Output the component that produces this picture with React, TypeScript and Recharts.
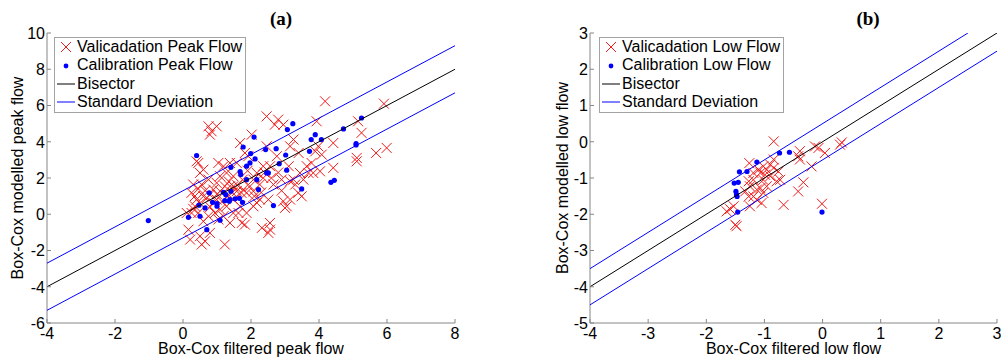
import React from "react";
import { ScatterChart, Scatter, XAxis, YAxis, Legend, Label } from "recharts";

// ---------- Panel (a) : peak flow ----------
const peakValX = [4.18,5.91,5.99,5.68,5.25,5.15,5.11,5.11,4.42,4.42,3.93,3.98,3.89,4.08,3.78,3.69,3.83,4.03,3.54,3.39,3.49,3.25,3.15,3.25,3.15,3.05,3.0,2.95,2.90,2.95,2.80,2.70,2.46,2.76,2.46,2.36,2.56,2.66,2.51,2.56,2.51,2.32,2.56,2.26,2.17,2.07,1.87,1.82,1.73,1.77,1.97,2.07,2.17,1.92,2.02,1.82,1.68,1.58,1.38,1.48,1.28,1.19,1.04,1.09,0.99,0.89,0.75,0.60,0.45,0.40,0.50,0.55,0.30,0.25,0.40,0.35,0.45,0.25,0.21,0.50,0.55,0.65,0.79,0.75,0.99,0.84,0.79,1.23,1.04,1.19,1.38,1.48,1.63,1.68,1.48,1.38,1.58,1.72,1.87,2.07,2.26,2.36,0.99,0.89,0.70,0.60,0.79,1.09,1.23,1.48,1.28,1.09,0.94,0.75,0.60,0.11,0.16,3.15,3.30,3.11,3.40,3.44,3.64,0.35,0.5,0.65,0.8,1.0,1.15,1.3,1.45,1.6,1.75,1.9,2.1,2.3,0.45,0.3,1.35,2.4,2.6,2.8,2.9];
const peakValY = [6.23,6.10,3.66,3.38,4.49,5.13,3.11,2.92,3.93,2.56,5.13,3.75,3.47,3.29,2.83,2.28,2.28,2.37,1.91,1.18,0.99,1.91,1.82,4.12,3.75,0.44,0.35,0.72,1.91,4.94,5.22,4.94,5.40,3.20,3.75,2.65,2.65,1.64,0.81,-0.85,-1.03,-0.75,-0.48,0.81,0.63,0.44,0.07,-0.57,-0.48,1.36,1.54,1.91,2.28,3.20,4.39,3.38,3.93,2.83,2.83,2.10,2.28,2.65,2.83,2.10,1.73,1.36,1.91,2.46,2.83,2.92,2.28,1.64,1.64,1.18,0.81,0.44,0.07,0.07,-1.40,-1.21,-1.67,-1.49,-1.03,4.85,4.85,4.58,4.39,-1.67,-0.29,-0.11,-0.48,0.07,0.07,0.44,1.54,1.54,1.27,1.18,1.18,1.27,1.64,2.00,0.81,0.63,0.90,0.99,1.08,1.27,1.54,0.81,0.44,0.26,0.07,-0.11,-0.39,0.07,-0.85,0.81,1.64,2.65,3.38,2.28,2.65,1.0,0.6,1.3,0.4,1.1,0.7,1.0,1.2,1.6,1.9,2.4,1.0,1.2,1.4,0.3,1.8,2.3,2.0,2.3,1.3];
const peakCalX = [-1.02,0.40,0.16,0.50,0.47,0.65,0.70,0.77,0.87,1.0,1.0,1.09,1.19,1.26,1.23,1.36,1.38,1.41,1.41,1.53,1.66,1.70,1.68,1.75,1.77,1.87,1.87,1.97,1.99,2.09,2.12,2.17,2.22,2.43,2.46,2.51,2.66,2.74,2.83,3.02,3.05,3.07,3.23,3.49,3.72,3.77,3.89,4.07,4.35,4.45,4.72,5.09,5.09,5.25];
const peakCalY = [-0.35,3.24,-0.17,-0.11,0.50,0.35,-0.85,1.18,0.66,0.44,0.59,-0.33,1.21,1.08,0.75,0.72,0.81,1.27,2.59,0.85,0.88,2.19,2.35,0.66,3.71,1.91,2.65,2.83,3.35,4.26,3.05,1.91,1.36,3.57,2.28,2.28,0.48,3.62,2.79,3.27,2.43,4.67,5.0,1.40,3.47,4.12,4.39,4.12,1.76,1.87,4.71,3.90,3.82,5.31];
const peakBisX = [-4, 8];
const peakBisY = [-4, 8];
const peakSdUpY = [-2.7, 9.3];
const peakSdLoY = [-5.3, 6.7];
const peakXTicks = [-4, -2, 0, 2, 4, 6, 8];
const peakYTicks = [-6, -4, -2, 0, 2, 4, 6, 8, 10];

// ---------- Panel (b) : low flow ----------
const lowValX = [-0.84,-0.39,-0.42,-0.39,-0.13,-0.07,0.04,0.30,0.33,-0.19,-0.33,-0.42,-0.01,-0.67,-1.53,-1.59,-1.65,-1.50,-1.48,-1.26,-1.19,-1.27,-1.25,-1.33,-1.27,-1.25,-1.13,-1.07,-1.02,-0.96,-0.90,-0.84,-0.76,-0.73,-0.79,-1.02,-0.96,-1.02,-1.05,-1.13,-0.90,-0.99,-1.10,-1.19,-1.07,-0.84,-1.19];
const lowValY = [0.01,-0.26,-0.40,-0.49,-0.13,-0.17,-0.31,-0.08,-0.02,-0.68,-1.12,-1.37,-1.71,-1.74,-1.78,-1.86,-1.92,-2.29,-2.33,-0.59,-1.05,-1.09,-1.23,-1.37,-1.51,-1.78,-1.60,-0.86,-0.68,-0.77,-0.63,-0.72,-0.82,-1.05,-1.09,-1.05,-1.23,-1.41,-1.69,-1.32,-0.95,-0.91,-0.77,-1.51,-1.28,-0.49,-0.86];
const lowCalX = [-1.13,-1.30,-1.43,-1.52,-1.45,-1.49,-1.48,-1.47,-1.46,-0.74,-0.57,-0.01];
const lowCalY = [-0.56,-0.82,-0.83,-1.14,-1.12,-1.37,-1.46,-1.51,-1.94,-0.31,-0.29,-1.94];
const lowBisX = [-4, 3];
const lowBisY = [-4, 3];
const lowSdUpX = [-4, 2.5];
const lowSdUpY = [-3.5, 3];
const lowSdLoX = [-4, 3];
const lowSdLoY = [-4.5, 2.5];
const lowXTicks = [-4, -3, -2, -1, 0, 1, 2, 3];
const lowYTicks = [-5, -4, -3, -2, -1, 0, 1, 2, 3];

const zip = (xs: number[], ys: number[]) => xs.map((x, i) => ({ x, y: ys[i] }));

const RED = "#f01a1a";
const BLUE = "#0000ff";
const BLACK = "#000000";
const AXIS = "#868686";
const FONT = "'Liberation Sans', Arial, sans-serif";

const CrossShape = (props: any) => {
  const { cx, cy } = props;
  if (cx == null || cy == null) return <g />;
  const s = 5;
  return (
    <g stroke={RED} strokeWidth={1}>
      <line x1={cx - s} y1={cy - s} x2={cx + s} y2={cy + s} />
      <line x1={cx - s} y1={cy + s} x2={cx + s} y2={cy - s} />
    </g>
  );
};

const DotShape = (props: any) => {
  const { cx, cy } = props;
  if (cx == null || cy == null) return <g />;
  return <circle cx={cx} cy={cy} r={2.6} fill={BLUE} />;
};

const NoShape = () => <g />;

const XTick = (props: any) => {
  const { x, y, payload } = props;
  return (
    <g>
      <line x1={x} x2={x} y1={y} y2={y - 4} stroke={AXIS} />
      <text x={x} y={y + 15.5} textAnchor="middle" fontSize={16} fontFamily={FONT} fill="#000">
        {String(payload.value)}
      </text>
    </g>
  );
};

const YTick = (props: any) => {
  const { x, y, payload } = props;
  return (
    <g>
      <line x1={x} x2={x + 4} y1={y} y2={y} stroke={AXIS} />
      <text x={x - 2} y={y + 5.8} textAnchor="end" fontSize={16} fontFamily={FONT} fill="#000">
        {String(payload.value)}
      </text>
    </g>
  );
};

type Kind = "cross" | "dot" | "line";
const makeLegend = (order: string[], kinds: Record<string, { kind: Kind; color: string }>, width: number) => () => (
  <div
    style={{
      width,
      boxSizing: "border-box",
      border: "1px solid #a3a3a3",
      background: "#fff",
      fontFamily: FONT,
      fontSize: 16,
      color: "#000",
    }}
  >
    {order.map((name) => {
      const m = kinds[name];
      return (
        <div key={name} style={{ display: "flex", alignItems: "center", height: 18.4, lineHeight: "18.4px", whiteSpace: "nowrap" }}>
          <svg width={22} height={18} style={{ flex: "none" }}>
            {m.kind === "cross" && (
              <g stroke={m.color} strokeWidth={1}>
                <line x1={6} y1={4} x2={16} y2={14} />
                <line x1={6} y1={14} x2={16} y2={4} />
              </g>
            )}
            {m.kind === "dot" && <circle cx={11} cy={9} r={2.4} fill={m.color} />}
            {m.kind === "line" && <line x1={2} x2={20} y1={9} y2={9} stroke={m.color} strokeWidth={1} />}
          </svg>
          <span>{name}</span>
        </div>
      );
    })}
  </div>
);

const peakNames = ["Valicadation Peak Flow", "Calibration Peak Flow", "Bisector", "Standard Deviation"];
const lowNames = ["Valicadation Low Flow", "Calibration Low Flow", "Bisector", "Standard Deviation"];
const kindsFor = (names: string[]) => ({
  [names[0]]: { kind: "cross" as Kind, color: RED },
  [names[1]]: { kind: "dot" as Kind, color: BLUE },
  [names[2]]: { kind: "line" as Kind, color: BLACK },
  [names[3]]: { kind: "line" as Kind, color: BLUE },
});

interface PanelProps {
  width: number;
  margin: { top: number; right: number; bottom: number; left: number };
  xDomain: [number, number];
  yDomain: [number, number];
  xTicks: number[];
  yTicks: number[];
  val: { x: number; y: number }[];
  cal: { x: number; y: number }[];
  bis: { x: number; y: number }[];
  sdUp: { x: number; y: number }[];
  sdLo: { x: number; y: number }[];
  names: string[];
  xLabel: string;
  yLabel: string;
  yLabelOffset: number;
  legendLeft: number;
  legendWidth: number;
}

const Panel = (p: PanelProps) => (
  <ScatterChart width={p.width} height={360} margin={p.margin} style={{ overflow: "visible" }}>
    <XAxis
      type="number"
      dataKey="x"
      domain={p.xDomain}
      ticks={p.xTicks}
      allowDataOverflow
      height={30}
      tickSize={0}
      tickMargin={0}
      tickLine={false}
      tick={<XTick />}
      axisLine={{ stroke: AXIS }}
      interval={0}
    >
      <Label value={p.xLabel} position="insideBottom" offset={-1} style={{ fontSize: 16, fontFamily: FONT, fill: "#000" }} />
    </XAxis>
    <YAxis
      type="number"
      dataKey="y"
      domain={p.yDomain}
      ticks={p.yTicks}
      allowDataOverflow
      width={40}
      tickSize={0}
      tickMargin={0}
      tickLine={false}
      tick={<YTick />}
      axisLine={{ stroke: AXIS }}
      interval={0}
    >
      <Label
        value={p.yLabel}
        angle={-90}
        position="insideLeft"
        offset={p.yLabelOffset}
        style={{ fontSize: 16, fontFamily: FONT, fill: "#000", textAnchor: "middle" }}
      />
    </YAxis>
    <Legend
      layout="horizontal"
      verticalAlign="middle"
      align="center"
      wrapperStyle={{ position: "absolute", left: p.legendLeft, top: 37, width: p.legendWidth, height: "auto" }}
      content={makeLegend(p.names, kindsFor(p.names), p.legendWidth)}
    />
    <Scatter name={p.names[0]} data={p.val} shape={<CrossShape />} legendType="cross" fill={RED} isAnimationActive={false} />
    <Scatter name={p.names[1]} data={p.cal} shape={<DotShape />} legendType="circle" fill={BLUE} isAnimationActive={false} />
    <Scatter
      name={p.names[2]}
      data={p.bis}
      shape={<NoShape />}
      line={{ stroke: BLACK, strokeWidth: 1 }}
      legendType="line"
      fill={BLACK}
      isAnimationActive={false}
    />
    <Scatter
      name={p.names[3]}
      data={p.sdUp}
      shape={<NoShape />}
      line={{ stroke: BLUE, strokeWidth: 1 }}
      legendType="line"
      fill={BLUE}
      isAnimationActive={false}
    />
    <Scatter
      name="sd-lower"
      data={p.sdLo}
      shape={<NoShape />}
      line={{ stroke: BLUE, strokeWidth: 1 }}
      legendType="none"
      fill={BLUE}
      isAnimationActive={false}
    />
  </ScatterChart>
);

export default function App() {
  return (
    <div style={{ position: "absolute", left: 0, top: 0, width: 1001, height: 360, background: "#fff", overflow: "hidden" }}>
      <div style={{ position: "absolute", left: 0, top: 0 }}>
        <Panel
          width={500}
          margin={{ top: 33, right: 45, bottom: 7, left: 7 }}
          xDomain={[-4, 8]}
          yDomain={[-6, 10]}
          xTicks={peakXTicks}
          yTicks={peakYTicks}
          val={zip(peakValX, peakValY)}
          cal={zip(peakCalX, peakCalY)}
          bis={zip(peakBisX, peakBisY)}
          sdUp={zip(peakBisX, peakSdUpY)}
          sdLo={zip(peakBisX, peakSdLoY)}
          names={peakNames}
          xLabel="Box-Cox filtered peak flow"
          yLabel="Box-Cox modelled peak flow"
          yLabelOffset={10}
          legendLeft={54}
          legendWidth={192}
        />
      </div>
      <div style={{ position: "absolute", left: 500, top: 0 }}>
        <Panel
          width={501}
          margin={{ top: 33, right: 4, bottom: 7, left: 50 }}
          xDomain={[-4, 3]}
          yDomain={[-5, 3]}
          xTicks={lowXTicks}
          yTicks={lowYTicks}
          val={zip(lowValX, lowValY)}
          cal={zip(lowCalX, lowCalY)}
          bis={zip(lowBisX, lowBisY)}
          sdUp={zip(lowSdUpX, lowSdUpY)}
          sdLo={zip(lowSdLoX, lowSdLoY)}
          names={lowNames}
          xLabel="Box-Cox filtered low flow"
          yLabel="Box-Cox modelled low flow"
          yLabelOffset={12}
          legendLeft={99}
          legendWidth={185}
        />
      </div>
      <svg width={1001} height={40} style={{ position: "absolute", left: 0, top: 0, pointerEvents: "none" }}>
        <text x={281} y={25} textAnchor="middle" fontFamily="'Liberation Serif', 'Times New Roman', serif" fontWeight="bold" fontSize={19} fill="#000">
          (a)
        </text>
        <text x={868} y={25} textAnchor="middle" fontFamily="'Liberation Serif', 'Times New Roman', serif" fontWeight="bold" fontSize={19} fill="#000">
          (b)
        </text>
      </svg>
    </div>
  );
}
